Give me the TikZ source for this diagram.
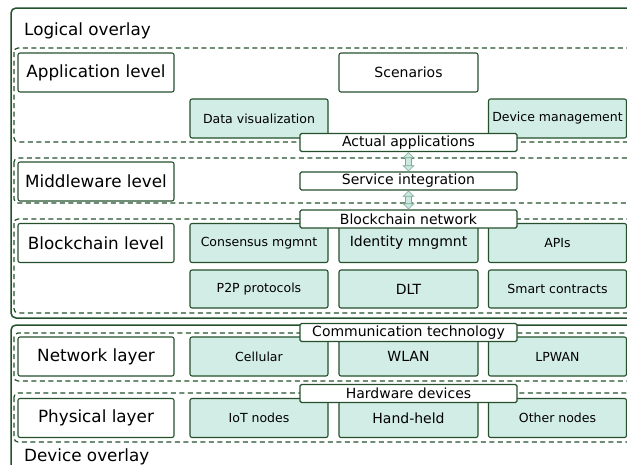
\documentclass[tikz,border=0pt]{standalone}
\usepackage{fontspec}
\setmainfont{DejaVu Sans}
\usetikzlibrary{arrows.meta}

\definecolor{edge}{HTML}{24502C}
\definecolor{cellfill}{HTML}{D2ECE6}
\definecolor{arrfill}{HTML}{CDE8E0}
\definecolor{arrline}{HTML}{7DAA98}

\newcommand{\bigsz}{\fontsize{16.8pt}{20pt}\selectfont}
\newcommand{\midsz}{\fontsize{14pt}{17pt}\selectfont}
\newcommand{\smallsz}{\fontsize{12.5pt}{15pt}\selectfont}

\tikzset{
  lvl/.style={draw=edge, line width=1.1pt, rounded corners=2pt, fill=white,
    minimum width=156pt, minimum height=39pt, inner sep=0pt, font=\bigsz},
  cellbox/.style={draw=edge, line width=1.1pt, rounded corners=2pt, fill=cellfill,
    minimum width=138pt, minimum height=39pt, inner sep=0pt, font=\smallsz},
  band/.style={draw=edge, line width=1.1pt, rounded corners=1.5pt, fill=white,
    minimum width=217pt, minimum height=18pt, inner sep=0pt, font=\midsz},
  overlaybox/.style={draw=edge, line width=1.5pt, rounded corners=5pt},
  group/.style={draw=edge, line width=1.2pt, dash pattern=on 5pt off 3.5pt,
    rounded corners=4pt},
  link/.style={draw=arrline, line width=0.6pt, double=arrfill, double distance=5pt,
    {Triangle[width=12pt,length=6pt,fill=arrfill]}-{Triangle[width=12pt,length=6pt,fill=arrfill]}}
}

\begin{document}
\begin{tikzpicture}[x={(1pt,0pt)}, y={(0pt,-1pt)}]
  \clip (0,0) rectangle (627,464);

  \draw[overlaybox] (11,8) rectangle (660,318);
  \draw[overlaybox] (11,325) rectangle (660,490);
  \node[anchor=base west, inner sep=0pt, font=\bigsz] (logical) at (24,35.5) {Logical overlay};
  \node[anchor=base west, inner sep=0pt, font=\bigsz] (device) at (24,461) {Device overlay};

  \draw[group] (14,48) rectangle (650,142);
  \draw[group] (14,158) rectangle (650,203);
  \draw[group] (14,219) rectangle (650,313);
  \draw[group] (14,333) rectangle (650,381);
  \draw[group] (14,393) rectangle (650,442);

  \node[lvl] (applvl) at (96,72.5) {Application level};
  \node[lvl, minimum width=139pt, font=\midsz] (scen) at (408.5,72.5) {Scenarios};
  \node[cellbox] (dataviz) at (259,118.5) {Data visualization};
  \node[cellbox] (devmgmt) at (557.5,118.5) {Device management};
  \node[band] (actapp) at (408.5,142.5) {Actual applications};

  \node[lvl] (midlvl) at (96,181.5) {Middleware level};
  \node[band] (servint) at (408.5,181) {Service integration};

  \node[lvl] (bclvl) at (96,243) {Blockchain level};
  \node[cellbox] (consensus) at (259,243) {Consensus mgmnt};
  \node[cellbox, minimum width=139pt, font=\midsz] (identity) at (408.5,243) {Identity mngmnt};
  \node[cellbox] (apis) at (557.5,243) {APIs};
  \node[cellbox, minimum height=38pt] (p2p) at (259,289) {P2P protocols};
  \node[cellbox, minimum height=38pt, minimum width=139pt, font=\midsz] (dlt) at (408.5,289) {DLT};
  \node[cellbox, minimum height=38pt] (smart) at (557.5,289) {Smart contracts};
  \node[band] (bcnet) at (408.5,219) {Blockchain network};

  \node[lvl] (netlvl) at (96,356.5) {Network layer};
  \node[cellbox] (cellular) at (259,356.5) {Cellular};
  \node[cellbox, minimum width=139pt, font=\midsz] (wlan) at (408.5,356.5) {WLAN};
  \node[cellbox] (lpwan) at (557.5,356.5) {LPWAN};
  \node[band] (commtech) at (408.5,332.5) {Communication technology};

  \node[lvl] (phylvl) at (96,418) {Physical layer};
  \node[cellbox] (iot) at (259,418) {IoT nodes};
  \node[cellbox, minimum width=139pt, font=\midsz] (handheld) at (408.5,418) {Hand-held};
  \node[cellbox] (other) at (557.5,418) {Other nodes};
  \node[band] (hwdev) at (408.5,393.5) {Hardware devices};

  \draw[link] (actapp) -- (servint);
  \draw[link] (servint) -- (bcnet);
\end{tikzpicture}
\end{document}
